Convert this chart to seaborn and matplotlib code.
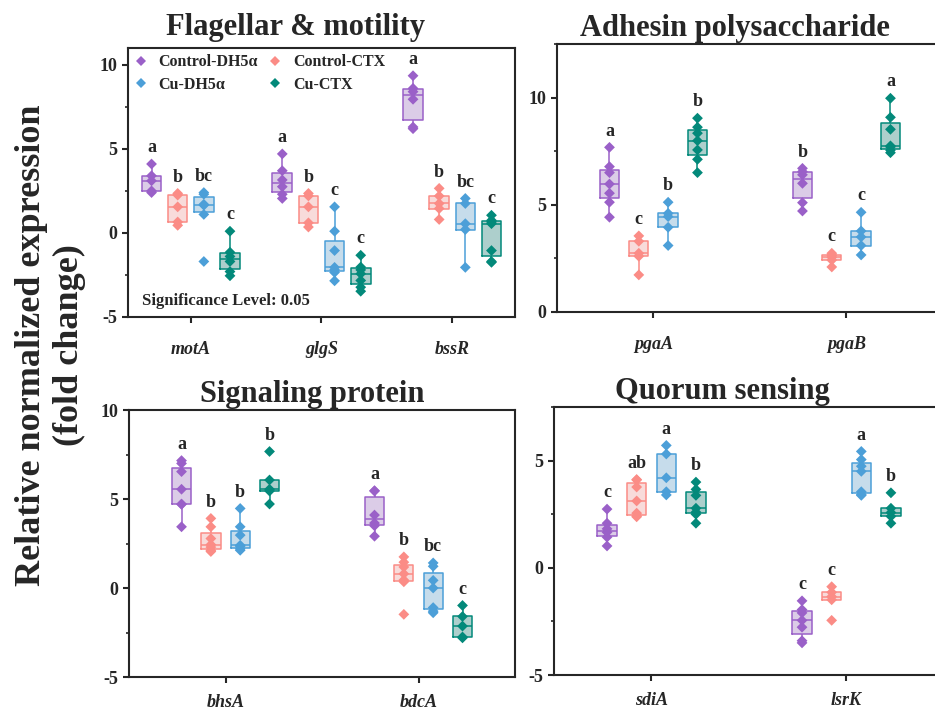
# libraries
import matplotlib
matplotlib.use("Agg")
import matplotlib.pyplot as plt
import seaborn as sns
import pandas as pd
from matplotlib.lines import Line2D
from matplotlib.ticker import MultipleLocator

# groups and colours
groups = ["Control-DH5α", "Control-CTX", "Cu-DH5α", "Cu-CTX"]
colors = ["#9a60c8", "#fb8c86", "#4c9fd8", "#03897a"]

# Flagellar & motility (one list per group, same order as `groups`)
flag_genes = ["motA", "glgS", "bssR"]
motA = [[2.4, 2.5, 3.1, 3.4, 4.1],
        [0.45, 0.65, 1.55, 2.25, 2.35],
        [-1.7, 1.1, 1.65, 1.7, 2.3, 2.4],
        [-2.55, -2.3, -1.7, -1.4, -1.15, 0.1]]
glgS = [[2.05, 2.3, 2.75, 3.15, 3.7, 4.7],
        [0.35, 0.6, 1.55, 2.2, 2.35],
        [-2.85, -2.35, -2.2, -2.05, -1.05, 0.1, 1.55],
        [-3.47, -3.23, -2.83, -2.43, -2.2, -2.03, -1.33]]
bssR = [[6.2, 6.3, 7.95, 8.4, 8.6, 9.35],
        [0.8, 1.45, 1.75, 2.2, 2.65],
        [-2.05, 0.2, 0.55, 1.75, 2.05],
        [-1.75, -1.7, -1.05, 0.55, 0.65, 0.75, 1.05]]
flag_letters = [["a", "b", "bc", "c"], ["a", "b", "c", "c"], ["a", "b", "bc", "c"]]

# Adhesin polysaccharide
adh_genes = ["pgaA", "pgaB"]
pgaA = [[4.42, 5.12, 5.54, 5.97, 6.5, 6.78, 7.68],
        [1.73, 2.6, 2.74, 3.3, 3.55],
        [3.1, 3.95, 4.45, 4.6, 5.12],
        [6.5, 7.12, 7.56, 7.99, 8.34, 8.62, 9.04]]
pgaB = [[4.71, 5.1, 6.0, 6.4, 6.55, 6.7],
        [2.1, 2.42, 2.55, 2.65, 2.74],
        [2.66, 3.1, 3.5, 3.78, 4.65],
        [7.43, 7.55, 7.7, 7.75, 8.52, 9.08, 9.97]]
adh_letters = [["a", "c", "b", "b"], ["b", "c", "c", "a"]]

# Signaling protein
sig_genes = ["bhsA", "bdcA"]
bhsA = [[3.44, 4.7, 4.72, 5.55, 6.54, 7.0, 7.16],
        [2.05, 2.12, 2.3, 2.44, 2.78, 3.44, 3.91],
        [2.12, 2.2, 2.35, 2.4, 2.97, 3.44, 4.47],
        [4.72, 5.45, 5.55, 6.07, 7.67]]
bdcA = [[2.91, 3.5, 3.65, 4.1, 5.45, 5.47],
        [-1.48, 0.35, 0.45, 0.8, 1.18, 1.45, 1.75],
        [-1.39, -1.3, -1.1, 0.0, 0.43, 1.22, 1.41],
        [-2.8, -2.75, -2.14, -1.6, -0.98]]
sig_letters = [["a", "b", "b", "b"], ["a", "b", "bc", "c"]]

# Quorum sensing
qs_genes = ["sdiA", "lsrK"]
sdiA = [[1.02, 1.43, 1.66, 1.82, 2.08, 2.74],
        [2.38, 2.42, 2.55, 3.12, 3.77, 4.1, 4.12],
        [3.4, 3.55, 4.2, 5.31, 5.71],
        [2.08, 2.5, 2.6, 2.78, 3.38, 3.66, 4.0]]
lsrK = [[-3.5, -3.4, -2.77, -2.45, -2.1, -1.95, -1.54],
        [-2.45, -1.49, -1.34, -1.14, -0.88],
        [3.38, 3.42, 3.55, 4.5, 4.74, 5.05, 5.43],
        [2.08, 2.4, 2.58, 2.78, 3.5]]
qs_letters = [["c", "ab", "a", "b"], ["c", "c", "a", "b"]]

# style
sns.set_style("ticks")
plt.rcParams["font.family"] = ["Liberation Serif", "DejaVu Serif"]
plt.rcParams["font.weight"] = "bold"
plt.rcParams["axes.linewidth"] = 1.5
plt.rcParams["axes.unicode_minus"] = False

pal = dict(zip(groups, colors))


def draw_panel(ax, title, genes, values, letters, ylim, yticks, step, box_w,
               title_x, title_pad=6, label_pad=13):
    rows = []
    for gi, gene in enumerate(genes):
        for hi, grp in enumerate(groups):
            for v in values[gi][hi]:
                rows.append((gene, grp, gi + (hi - 1.5) * step, v))
    df = pd.DataFrame(rows, columns=["gene", "group", "pos", "value"])

    common = dict(data=df, x="pos", y="value", hue="group", hue_order=groups,
                  palette=pal, native_scale=True, dodge=False, orient="x",
                  legend=False, ax=ax)
    # translucent fill
    sns.boxplot(**common, width=box_w / step, showfliers=False, showcaps=False,
                linewidth=0, boxprops=dict(alpha=0.35))
    # coloured outlines, whiskers and medians
    sns.boxplot(**common, width=box_w / step, showfliers=False, showcaps=False,
                fill=False, linewidth=1.1)
    # individual samples
    sns.stripplot(**common, jitter=False, marker="D", size=5.5, linewidth=0,
                  zorder=4)

    # significance letters
    for gi in range(len(genes)):
        for hi in range(len(groups)):
            top = max(values[gi][hi])
            ax.annotate(letters[gi][hi], (gi + (hi - 1.5) * step, top),
                        xytext=(0, 8.5), textcoords="offset points",
                        ha="center", va="baseline", fontsize=13,
                        fontweight="bold")

    ax.set_xlim(-0.5 if len(genes) == 2 else -0.48,
                len(genes) - 0.5 if len(genes) == 2 else 2.48)
    ax.set_ylim(*ylim)
    ax.set_xticks(range(len(genes)), genes, fontstyle="italic",
                  fontweight="bold", fontsize=14.5)
    ax.set_yticks(yticks)
    ax.yaxis.set_minor_locator(MultipleLocator(2.5))
    ax.tick_params(axis="both", which="major", direction="out", length=4,
                   width=1.5, labelsize=13)
    ax.tick_params(axis="x", which="major", pad=label_pad)
    ax.tick_params(axis="y", which="minor", direction="out", length=2.5,
                   width=1.2)
    ax.tick_params(axis="x", which="minor", bottom=False)
    for lab in ax.get_yticklabels():
        lab.set_fontweight("bold")
    ax.set_xlabel("")
    ax.set_ylabel("")
    for s in ax.spines.values():
        s.set_visible(True)
        s.set_linewidth(1.5)
    ax.set_title(title, x=title_x, fontsize=22, fontweight="bold", pad=title_pad)


fig = plt.figure(figsize=(9.35, 7.11), dpi=100)
ax1 = fig.add_axes([0.1369, 0.5542, 0.4139, 0.3783])
ax2 = fig.add_axes([0.5957, 0.5612, 0.4128, 0.3769])
ax3 = fig.add_axes([0.1380, 0.0478, 0.4128, 0.3755])
ax4 = fig.add_axes([0.5925, 0.0506, 0.4171, 0.3769])

draw_panel(ax1, "Flagellar & motility", flag_genes, [motA, glgS, bssR],
           flag_letters, (-5, 11), [-5, 0, 5, 10], 0.2, 0.15, 0.434,
           title_pad=9)
draw_panel(ax2, "Adhesin polysaccharide", adh_genes, [pgaA, pgaB],
           adh_letters, (0, 12.5), [0, 5, 10], 0.152, 0.1, 0.46)
draw_panel(ax3, "Signaling protein", sig_genes, [bhsA, bdcA],
           sig_letters, (-5, 10), [-5, 0, 5, 10], 0.152, 0.1, 0.474,
           label_pad=8)
draw_panel(ax4, "Quorum sensing", qs_genes, [sdiA, lsrK],
           qs_letters, (-5, 7.5), [-5, 0, 5], 0.152, 0.1, 0.433,
           label_pad=8)

# legend in the first panel
handles = [Line2D([], [], marker="D", linestyle="none", markersize=5.5,
                  markerfacecolor=c, markeredgewidth=0, color=c) for c in colors]
order = [0, 2, 1, 3]
ax1.legend([handles[i] for i in order], [groups[i] for i in order], ncol=2,
           loc="upper left", bbox_to_anchor=(0, 1), borderaxespad=0,
           frameon=False, handlelength=0.8, handletextpad=0.7,
           columnspacing=0.7, labelspacing=0.4,
           prop=dict(size=11.5, weight="bold"))

ax1.text(0.036, 0.06, "Significance Level: 0.05", transform=ax1.transAxes,
         ha="left", va="center", fontsize=12, fontweight="bold")

fig.text(0.054, 0.515, "Relative normalized expression\n(fold change)",
         rotation=90, ha="center", va="center", multialignment="center",
         fontsize=26, fontweight="bold", linespacing=1.2)

fig.savefig("out.png", dpi=100)
